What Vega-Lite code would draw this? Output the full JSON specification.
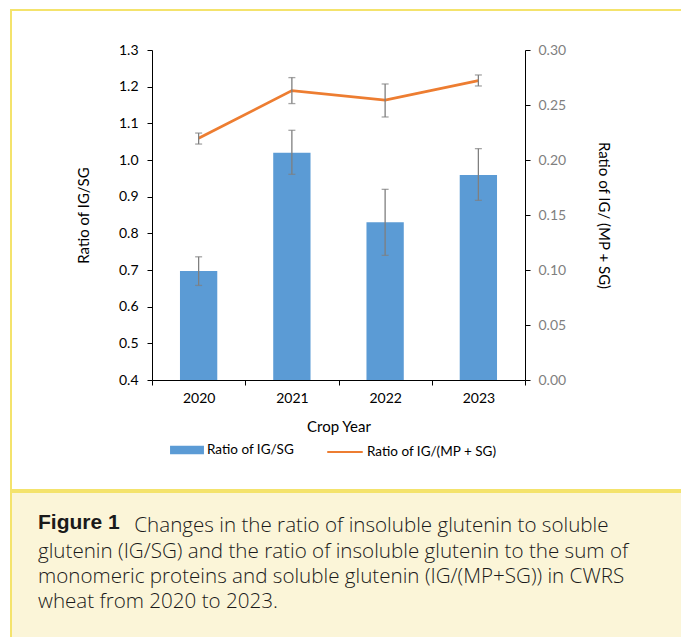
{
  "$schema": "https://vega.github.io/schema/vega-lite/v6.json",
  "background": "white",
  "padding": {"left": 10, "top": 9, "right": 0, "bottom": 0},
  "spacing": 0,
  "config": {
    "font": "Lato",
    "axis": {"labelFont": "Lato", "titleFont": "Lato", "titleFontWeight": "normal", "domainColor": "#000000", "tickColor": "#000000", "labelColor": "#000000", "titleColor": "#000000", "grid": false, "labelFontSize": 14, "titleFontSize": 15, "tickSize": 5},
    "legend": {"labelFont": "Lato", "labelFontSize": 13.5, "labelColor": "#000000"}
  },
  "datasets": {
    "ratios": [
      {"year": "2020", "igsg": 0.697, "igsg_lo": 0.658, "igsg_hi": 0.736, "igmp": 0.2197, "igmp_lo": 0.2145, "igmp_hi": 0.2245},
      {"year": "2021", "igsg": 1.020, "igsg_lo": 0.961, "igsg_hi": 1.081, "igmp": 0.2631, "igmp_lo": 0.2513, "igmp_hi": 0.2749},
      {"year": "2022", "igsg": 0.830, "igsg_lo": 0.740, "igsg_hi": 0.920, "igmp": 0.2545, "igmp_lo": 0.2391, "igmp_hi": 0.2691},
      {"year": "2023", "igsg": 0.959, "igsg_lo": 0.890, "igsg_hi": 1.031, "igmp": 0.2722, "igmp_lo": 0.2673, "igmp_hi": 0.2773}
    ]
  },
  "vconcat": [
    {
      "width": 671,
      "height": 480,
      "view": {"fill": "#FFFFFF", "stroke": "#F4E36C", "strokeWidth": 2},
      "data": {"name": "ratios"},
      "encoding": {
        "x": {"field": "year", "type": "nominal", "title": "Crop Year",
              "scale": {"range": [141, 514], "paddingInner": 0, "paddingOuter": 0},
              "axis": {"labelAngle": 0, "tickBand": "extent", "labelPadding": 6, "titlePadding": 14, "offset": -110}}
      },
      "layer": [
        {
          "layer": [
            {
              "mark": {"type": "bar", "width": {"band": 0.4}},
              "encoding": {
                "y": {"field": "igsg", "type": "quantitative", "title": "Ratio of IG/SG",
                      "scale": {"domain": [0.4, 1.3], "range": [370, 40], "nice": false, "zero": false},
                      "axis": {"orient": "left", "offset": -141, "values": [0.4, 0.5, 0.6, 0.7, 0.8, 0.9, 1.0, 1.1, 1.2, 1.3], "format": ".1f", "labelPadding": 9, "titlePadding": 27}},
                "y2": {"datum": 0.4},
                "fill": {"datum": "Ratio of IG/SG", "type": "nominal", "scale": {"range": ["#5B9BD5"]},
                         "legend": {"orient": "none", "legendX": 159, "legendY": 423, "title": null, "symbolType": "M-1,-0.25H1V0.25H-1Z", "symbolSize": 1150, "symbolStrokeWidth": 0, "labelOffset": 3, "padding": 0}}
              }
            },
            {
              "mark": {"type": "errorbar", "ticks": {"size": 7}, "color": "#7F7F7F", "thickness": 1.3},
              "encoding": {
                "y": {"field": "igsg_lo", "type": "quantitative", "title": "Ratio of IG/SG",
                      "scale": {"domain": [0.4, 1.3], "range": [370, 40], "nice": false, "zero": false},
                      "axis": {"orient": "left", "offset": -141, "values": [0.4, 0.5, 0.6, 0.7, 0.8, 0.9, 1.0, 1.1, 1.2, 1.3], "format": ".1f", "labelPadding": 9, "titlePadding": 27}},
                "y2": {"field": "igsg_hi"}
              }
            }
          ]
        },
        {
          "layer": [
            {
              "mark": {"type": "line", "strokeWidth": 2.8},
              "encoding": {
                "y": {"field": "igmp", "type": "quantitative", "title": "Ratio of IG/ (MP + SG)",
                      "scale": {"domain": [0, 0.3], "range": [370, 40], "nice": false},
                      "axis": {"orient": "right", "offset": -157, "values": [0, 0.05, 0.1, 0.15, 0.2, 0.25, 0.3], "format": ".2f", "labelColor": "#7F7F7F", "labelPadding": 8, "titlePadding": 30}},
                "stroke": {"datum": "Ratio of IG/(MP + SG)", "type": "nominal", "scale": {"range": ["#ED7D31"]},
                           "legend": {"orient": "none", "legendX": 315, "legendY": 423, "title": null, "symbolType": "stroke", "symbolSize": 1260, "symbolStrokeWidth": 2.2, "labelOffset": 3, "padding": 0}}
              }
            },
            {
              "mark": {"type": "errorbar", "ticks": {"size": 7}, "color": "#7F7F7F", "thickness": 1.3},
              "encoding": {
                "y": {"field": "igmp_lo", "type": "quantitative", "title": "Ratio of IG/ (MP + SG)",
                      "scale": {"domain": [0, 0.3], "range": [370, 40], "nice": false},
                      "axis": {"orient": "right", "offset": -157, "values": [0, 0.05, 0.1, 0.15, 0.2, 0.25, 0.3], "format": ".2f", "labelColor": "#7F7F7F", "labelPadding": 8, "titlePadding": 30}},
                "y2": {"field": "igmp_hi"}
              }
            }
          ]
        }
      ],
      "resolve": {"scale": {"y": "independent", "fill": "independent", "stroke": "independent"}}
    },
    {
      "width": 671,
      "height": 150,
      "view": {"fill": "#FBF5D8", "stroke": "#F4E36C", "strokeWidth": 2},
      "data": {"values": []},
      "mark": {"type": "text"},
      "title": {
        "text": "Figure 1",
        "subtitle": ["\u200b\u00a0\u00a0\u00a0\u00a0\u00a0\u00a0\u00a0\u00a0\u00a0\u00a0\u00a0\u00a0\u00a0\u00a0\u00a0\u00a0\u00a0\u00a0Changes in the ratio of insoluble glutenin to soluble", "glutenin (IG/SG) and the ratio of insoluble glutenin to the sum of", "monomeric proteins and soluble glutenin (IG/(MP+SG)) in CWRS", "wheat from 2020 to 2023."],
        "orient": "top",
        "anchor": "start",
        "frame": "group",
        "dx": 27,
        "offset": -121,
        "font": "Liberation Sans, Arial, sans-serif",
        "fontSize": 21,
        "fontWeight": "bold",
        "color": "#1A1A1A",
        "subtitleFont": "Open Sans, Liberation Sans, sans-serif",
        "subtitleFontSize": 20.6,
        "subtitleFontWeight": 300,
        "subtitleColor": "#1A1A1A",
        "subtitleLineHeight": 25.4,
        "subtitlePadding": -17
      }
    }
  ]
}
